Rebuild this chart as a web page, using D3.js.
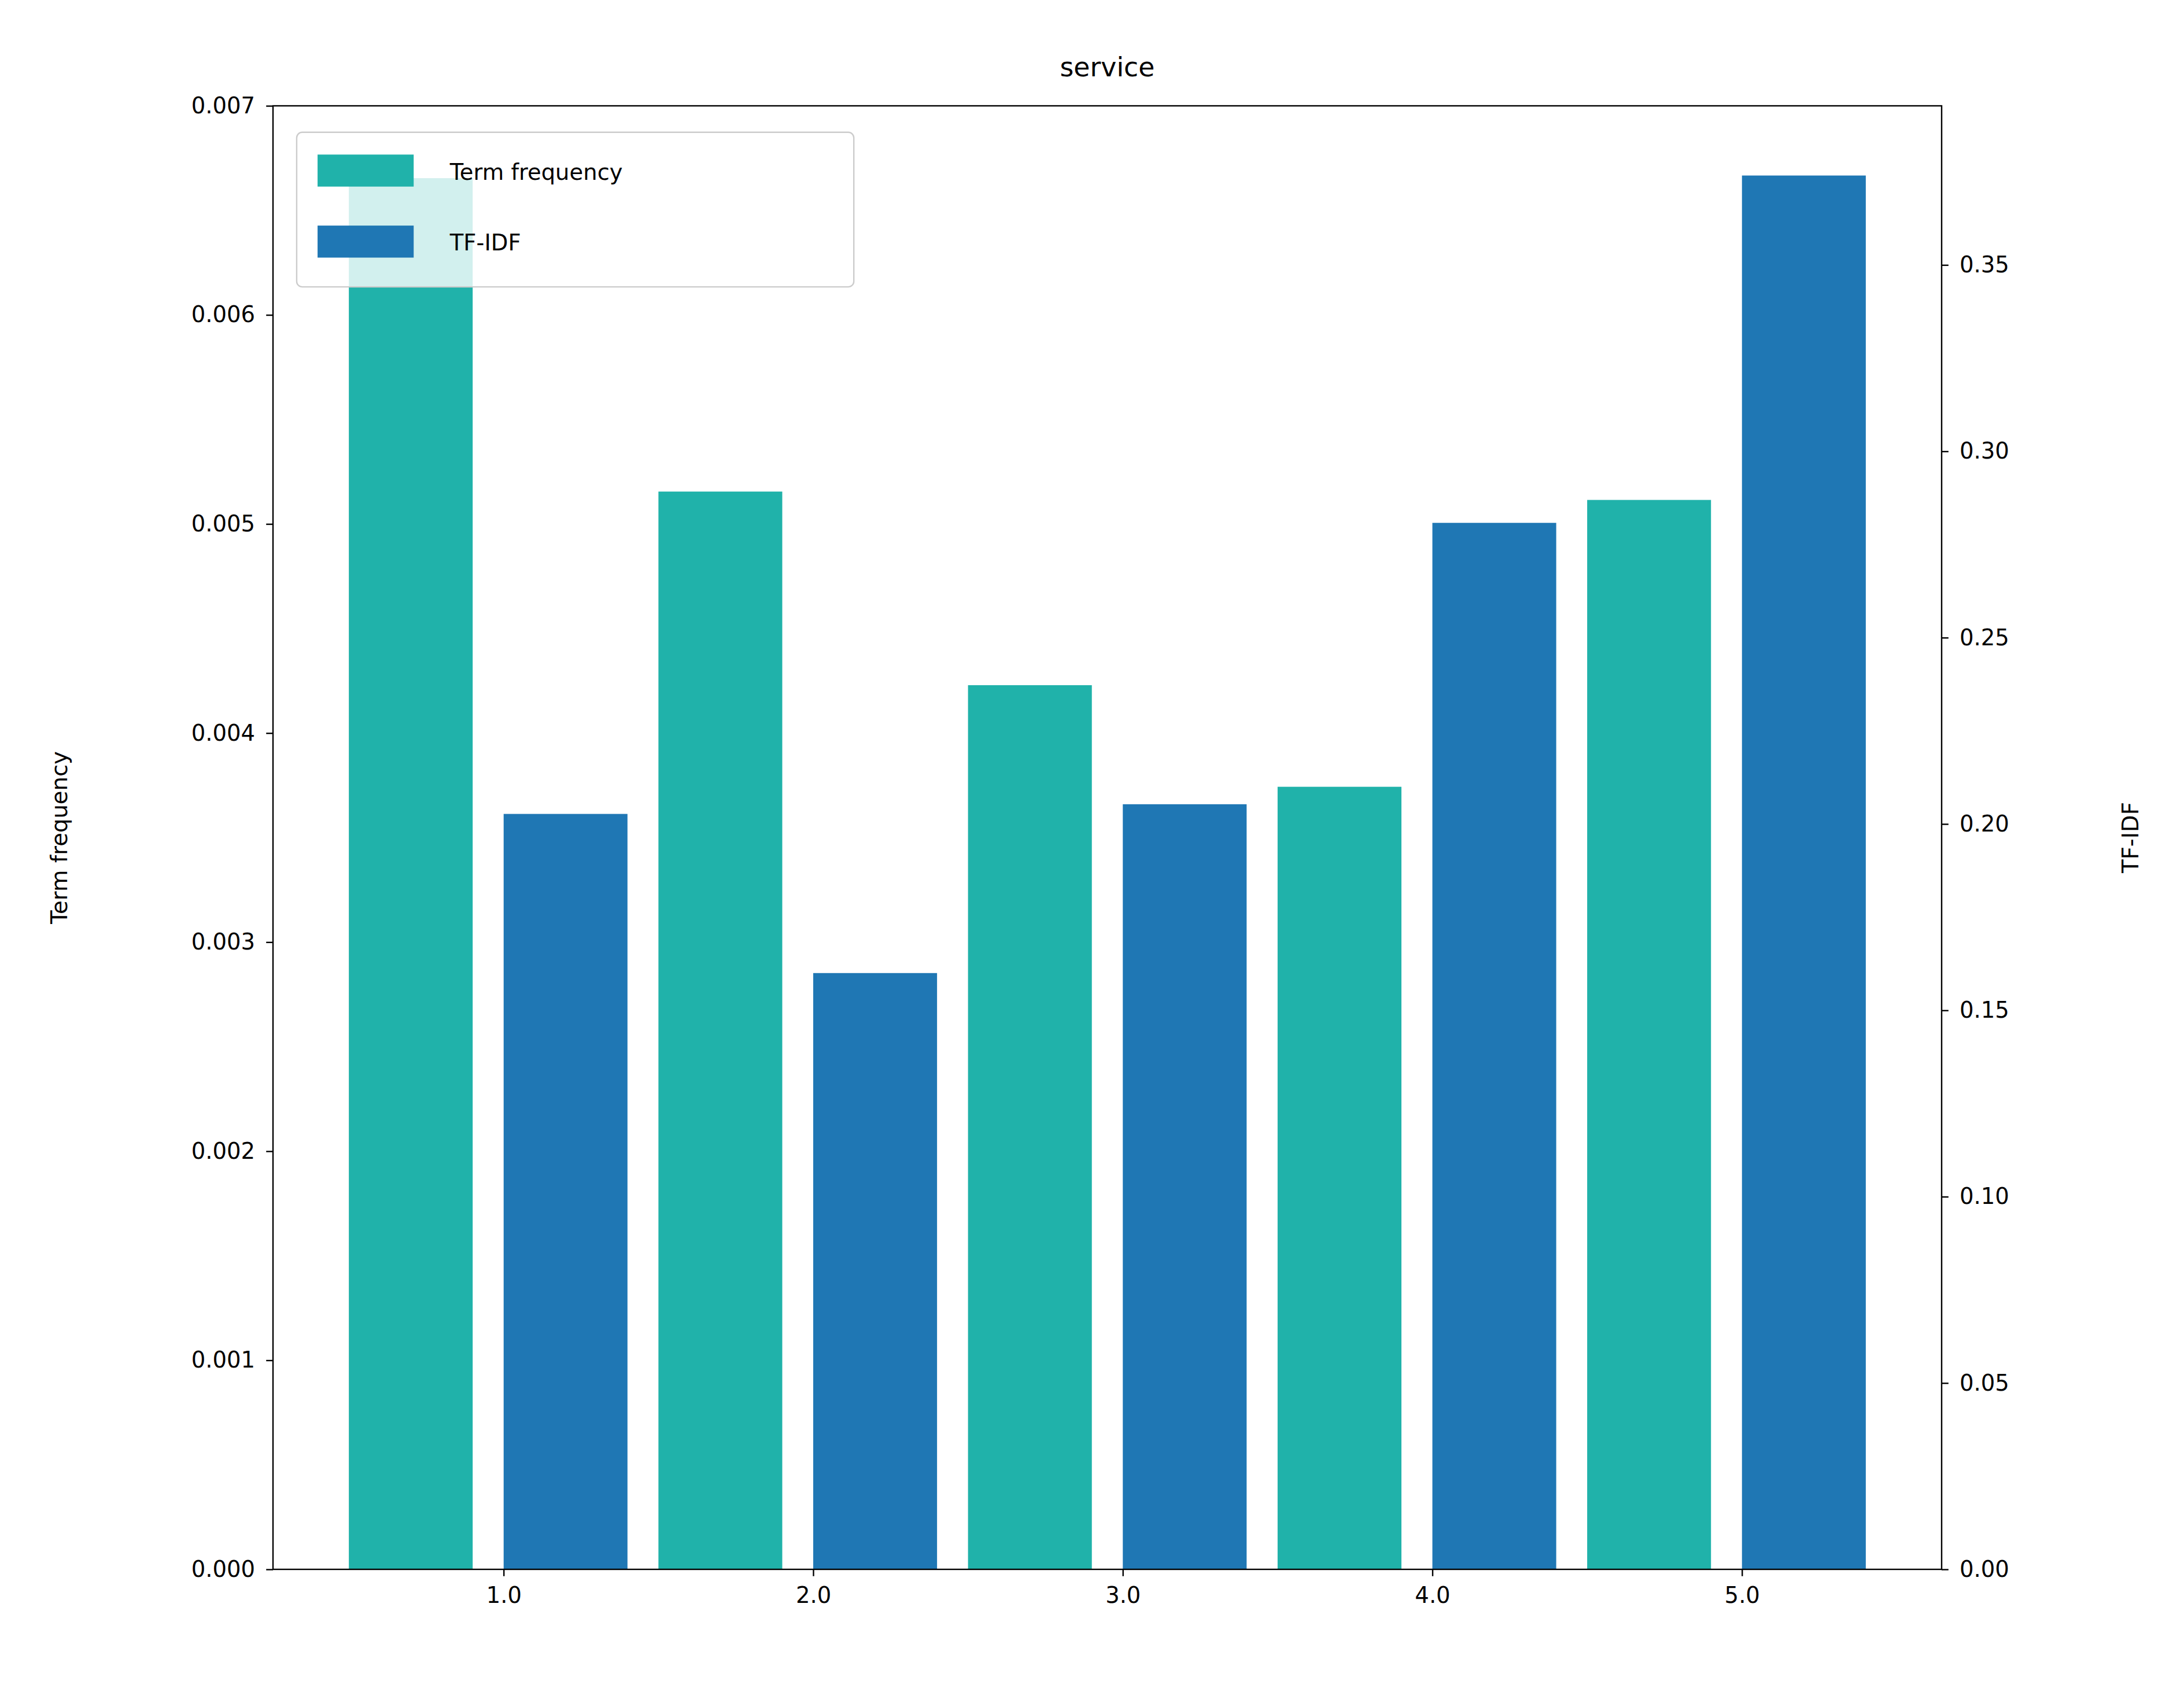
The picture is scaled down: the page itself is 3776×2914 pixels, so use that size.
<!DOCTYPE html><html><head><meta charset="utf-8"><script src="https://cdn.jsdelivr.net/npm/d3@7"></script>
<style>body{margin:0;background:#fff}text{font-family:"DejaVu Sans";}</style></head><body>
<svg id="c" width="3776" height="2914"></svg>
<script>
const categories=[1,2,3,4,5];
const termFreq=[0.006654,0.005155,0.004229,0.003743,0.005115];
const tfidf=[0.2027,0.160,0.2053,0.2808,0.374];
const leftTicks=[0,0.001,0.002,0.003,0.004,0.005,0.006,0.007];
const rightTicks=[0,0.05,0.10,0.15,0.20,0.25,0.30,0.35];
const s=3776/1568;
const svg=d3.select("#c");
const L=196*s,R=1394*s,T=76*s,B=1127*s;
const x=d3.scaleLinear().domain([0.255,5.645]).range([L,R]);
const yl=d3.scaleLinear().domain([0,0.007]).range([B,T]);
const yr=d3.scaleLinear().domain([0,0.3927]).range([B,T]);
const fs=16*s;
svg.selectAll(".tf").data(categories).join("rect").attr("x",d=>x(d-0.5)).attr("width",x(0.4)-x(0)).attr("y",(d,i)=>yl(termFreq[i])).attr("height",(d,i)=>B-yl(termFreq[i])).attr("fill","#20b2aa");
svg.selectAll(".ti").data(categories).join("rect").attr("x",d=>x(d)).attr("width",x(0.4)-x(0)).attr("y",(d,i)=>yr(tfidf[i])).attr("height",(d,i)=>B-yr(tfidf[i])).attr("fill","#1f77b4");
const fmt=(a,n)=>a.toFixed(n);
const ax=(g,c)=>{g.selectAll("text").attr("font-size",fs).attr("font-family","DejaVu Sans").attr("fill","#000");g.selectAll("line").attr("stroke-width",2.4);g.select(".domain").remove();};
svg.append("g").attr("transform",`translate(0,${B})`).call(d3.axisBottom(x).tickValues(categories).tickSize(3.5*s*1.4).tickPadding(8*s)).call(ax);
svg.append("g").attr("transform",`translate(${L},0)`).call(d3.axisLeft(yl).tickValues(leftTicks).tickFormat(d=>fmt(d,3)).tickSize(3.5*s*1.4).tickPadding(8*s)).call(ax);
svg.append("g").attr("transform",`translate(${R},0)`).call(d3.axisRight(yr).tickValues(rightTicks).tickFormat(d=>fmt(d,2)).tickSize(3.5*s*1.4).tickPadding(8*s)).call(ax);
svg.append("rect").attr("x",L).attr("y",T).attr("width",R-L).attr("height",B-T).attr("fill","none").attr("stroke","#000").attr("stroke-width",2.4);
svg.append("text").attr("x",(L+R)/2).attr("y",55*s).attr("text-anchor","middle").attr("font-size",19*s).text("service");
svg.append("text").attr("transform",`translate(${48*s},${(T+B)/2}) rotate(-90)`).attr("text-anchor","middle").attr("font-size",fs).text("Term frequency");
svg.append("text").attr("transform",`translate(${1535*s},${(T+B)/2}) rotate(-90)`).attr("text-anchor","middle").attr("font-size",fs).text("TF-IDF");
const lg=svg.append("g");
lg.append("rect").attr("x",213*s).attr("y",95*s).attr("width",400*s).attr("height",111*s).attr("rx",4*s).attr("fill","#fff").attr("fill-opacity",0.8).attr("stroke","#ccc").attr("stroke-width",2.4);
[["Term frequency","#20b2aa",111],["TF-IDF","#1f77b4",162]].forEach(([t,c,yy])=>{
lg.append("rect").attr("x",228*s).attr("y",yy*s).attr("width",69*s).attr("height",23*s).attr("fill",c);
lg.append("text").attr("x",323*s).attr("y",(yy+18)*s).attr("font-size",fs).text(t);});
</script></body></html>
